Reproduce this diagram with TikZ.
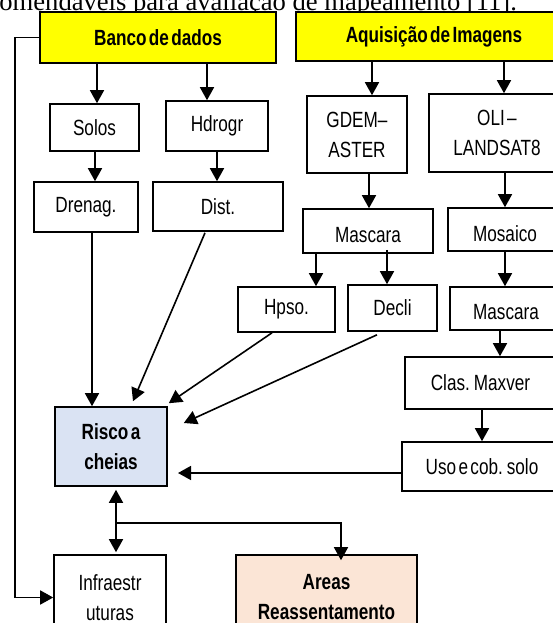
\documentclass[tikz,border=0pt]{standalone}
\usepackage{fontspec}
\usetikzlibrary{arrows.meta,fit,calc}
\newfontfamily\boxfont[FakeStretch=0.78,WordSpace={0.5}]{Liberation Sans}
\newfontfamily\capfont{Liberation Serif}
\definecolor{hdryellow}{HTML}{FFFF00}
\definecolor{riscoblue}{HTML}{DAE3F3}
\definecolor{areaspeach}{HTML}{FBE5D6}
\tikzset{
  box/.style={draw, line width=0.8pt, inner sep=0pt},
  lbl/.style={inner sep=0pt, align=center, font=\boxfont\fontsize{11}{15}\selectfont},
  blbl/.style={lbl, font=\boxfont\bfseries\fontsize{11}{15}\selectfont},
  arr/.style={line width=0.8pt, -{Triangle[width=7pt,length=6.5pt]}},
  darr/.style={line width=0.8pt, {Triangle[width=7pt,length=6.5pt]}-{Triangle[width=7pt,length=6.5pt]}}
}
\begin{document}
\begin{tikzpicture}[x=0.5pt,y=-0.5pt]
\useasboundingbox (0,0) rectangle (553,623);
\clip (0,0) rectangle (553,623);
\fill[white] (0,0) rectangle (553,623);
% caption fragment
\node[anchor=base west, inner sep=0pt, font=\capfont\fontsize{13.3}{16}\selectfont] (cap) at (-1,10) {omendáveis para avaliação de mapeamento [11].};
% boxes
\node[box, fill=hdryellow, fit={(40,12) (276,63)}, label={[blbl]center:Banco de dados}] (banco) {};
\node[box, fill=hdryellow, fit={(296,12) (572,61)}, label={[blbl]center:Aquisição de Imagens}] (aquis) {};
\node[box, fit={(50,104) (139,151)}, label={[lbl]center:Solos}] (solos) {};
\node[box, fit={(166,101) (268,151)}, label={[lbl]center:Hdrogr}] (hidro) {};
\node[box, fit={(34,182) (138,232)}, label={[lbl]center:Drenag.}] (drenag) {};
\node[box, fit={(153,182) (283,231)}, label={[lbl]center:Dist.}] (dist) {};
\node[box, fit={(307,96) (407,173)}, label={[lbl]center:GDEM–\\ASTER}] (gdem) {};
\node[box, fit={(429,94) (565,172)}, label={[lbl]center:OLI –\\LANDSAT8}] (oli) {};
\node[box, fit={(303,209) (433,253)}, label={[lbl, yshift=-2pt]center:Mascara}] (masc1) {};
\node[box, fit={(448,208) (562,251)}, label={[lbl, yshift=-2pt]center:Mosaico}] (mosaico) {};
\node[box, fit={(238,287) (335,332)}, label={[lbl]center:Hpso.}] (hipso) {};
\node[box, fit={(348,285) (437,331)}, label={[lbl]center:Decli}] (decli) {};
\node[box, fit={(450,287) (562,330)}, label={[lbl, yshift=-2pt]center:Mascara}] (masc2) {};
\node[box, fit={(405,357) (556,409)}, label={[lbl]center:Clas. Maxver}] (clas) {};
\node[box, fit={(402,442) (562,491)}, label={[lbl]center:Uso e cob. solo}] (uso) {};
\node[box, fill=riscoblue, fit={(55,407) (167,486)}, label={[blbl]center:Risco a\\cheias}] (risco) {};
\node[box, fit={(54,555) (166,640)}, label={[lbl]center:Infraestr\\uturas}] (infra) {};
\node[box, fill=areaspeach, fit={(236,555) (417,640)}, label={[blbl]center:Areas\\Reassentamento}] (areas) {};
% helper coordinates for connector positions
\coordinate (xa) at (97,0);
\coordinate (xb) at (207,0);
\coordinate (xc) at (372,0);
\coordinate (xd) at (504,0);
\coordinate (xe) at (95,0);
\coordinate (xf) at (217,0);
\coordinate (xg) at (369,0);
\coordinate (xh) at (505,0);
\coordinate (xi) at (316,0);
\coordinate (xj) at (387,0);
\coordinate (xk) at (500,0);
\coordinate (xl) at (482,0);
\coordinate (xm) at (92,0);
\coordinate (xn) at (116,0);
\coordinate (xo) at (341,0);
\coordinate (xq) at (15,0);
\coordinate (xr) at (178,0);
\coordinate (ya) at (0,473);
\coordinate (yb) at (0,523);
% connectors
\draw[arr] (banco.west) -| (xq |- infra.west) -- (infra.west);
\draw[arr] (banco.south -| xa) -- (solos.north -| xa);
\draw[arr] (banco.south -| xb) -- (hidro.north -| xb);
\draw[arr] (aquis.south -| xc) -- (gdem.north -| xc);
\draw[arr] (aquis.south -| xd) -- (oli.north -| xd);
\draw[arr] (solos.south -| xe) -- (drenag.north -| xe);
\draw[arr] (hidro.south -| xf) -- (dist.north -| xf);
\draw[arr] (gdem.south -| xg) -- (masc1.north -| xg);
\draw[arr] (oli.south -| xh) -- (mosaico.north -| xh);
\draw[arr] (masc1.south -| xi) -- (hipso.north -| xi);
\draw[arr] ($(masc1.south -| xj)+(0,-4)$) -- (decli.north -| xj);
\draw[arr] (mosaico.south -| xh) -- (masc2.north -| xh);
\draw[arr] (masc2.south -| xk) -- (clas.north -| xk);
\draw[arr] (clas.south -| xl) -- (uso.north -| xl);
\draw[arr] (uso.west |- ya) -- (xr |- ya);
\draw[arr] (drenag.south -| xm) -- (risco.north -| xm);
\draw[arr] ($(dist.south)+(-13,1)$) -- ($(risco.north)+(22,-5)$);
\draw[arr] ($(hipso.south)+(-14.5,0)$) -- ($(risco.north east)+(1,-3)$);
\draw[arr] ($(decli.south)+(-15.5,3)$) -- ($(risco.east)+(16,-23.5)$);
\draw[darr] ($(risco.south -| xn)+(0,3)$) -- ($(infra.north -| xn)+(0,-2)$);
\draw[arr] (xn |- yb) -| ($(xo |- areas.north)+(0,6)$);
\end{tikzpicture}
\end{document}
